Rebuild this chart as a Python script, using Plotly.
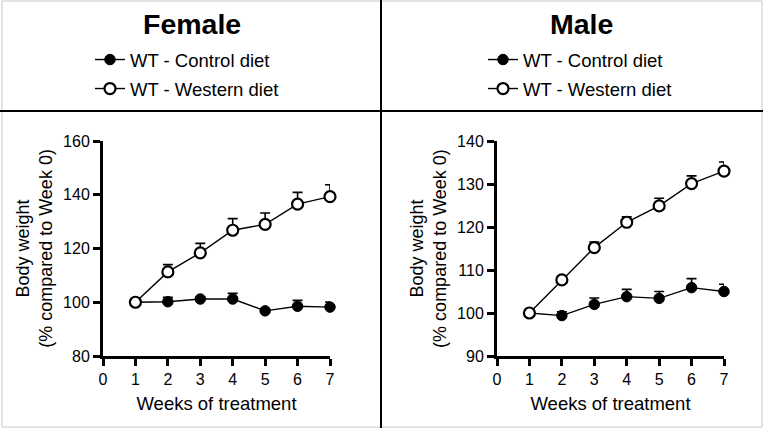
import plotly.graph_objects as go

weeks = [1, 2, 3, 4, 5, 6, 7]
x_ticks = [0, 1, 2, 3, 4, 5, 6, 7]

female_control = [100.0, 100.2, 101.2, 101.2, 96.8, 98.5, 98.2]
female_control_err = [0.0, 1.6, 0.8, 2.1, 0.5, 2.2, 1.9]
female_western = [100.0, 111.3, 118.4, 126.8, 129.0, 136.5, 139.3]
female_western_err = [0.0, 2.7, 3.5, 4.3, 4.2, 4.4, 4.4]

male_control = [100.0, 99.4, 102.0, 103.8, 103.4, 105.9, 105.0]
male_control_err = [0.0, 0.9, 1.5, 1.7, 1.6, 2.1, 1.7]
male_western = [100.0, 107.7, 115.2, 121.1, 124.9, 130.1, 133.0]
male_western_err = [0.0, 0.9, 1.3, 1.3, 1.8, 1.8, 2.1]

female_yticks = [80, 100, 120, 140, 160]
male_yticks = [90, 100, 110, 120, 130, 140]

series_names = ["WT - Control diet", "WT - Western diet"]
panel_titles = ["Female", "Male"]

FONT = "Liberation Sans, Arial, sans-serif"

fig = go.Figure()


def add_series(y, err, name, filled, xa, ya, legend):
    fig.add_trace(go.Scatter(
        x=weeks, y=y, name=name, mode="lines+markers",
        xaxis=xa, yaxis=ya, legend=legend, cliponaxis=False, showlegend=True,
        line=dict(color="black", width=1.4),
        marker=dict(size=10.5 if filled else 11, symbol="circle",
                    color="black" if filled else "white",
                    line=dict(color="black", width=2.2 if not filled else 1)),
        error_y=dict(type="data", symmetric=False, array=err,
                     arrayminus=[0] * len(err), width=5, thickness=1.6,
                     color="black"),
    ))


add_series(female_control, female_control_err, series_names[0], True, "x", "y", "legend")
add_series(female_western, female_western_err, series_names[1], False, "x", "y", "legend2")
add_series(male_control, male_control_err, series_names[0], True, "x2", "y2", "legend3")
add_series(male_western, male_western_err, series_names[1], False, "x2", "y2", "legend4")

W, H = 763, 428
ydom = [1 - 356 / H, 1 - 141 / H]

axis_common = dict(showline=True, linecolor="black", linewidth=3, ticks="outside",
                   ticklen=7, tickwidth=2.5, tickcolor="black", showgrid=False,
                   zeroline=False, automargin=False,
                   tickfont=dict(family=FONT, size=16, color="black"))

xtitle = dict(text="Weeks of treatment", font=dict(family=FONT, size=18.5, color="black"), standoff=10)
ytitle = dict(text="Body weight<br>(% compared to Week 0)", font=dict(family=FONT, size=18, color="black"), standoff=6)

fig.update_layout(
    width=W, height=H,
    showlegend=True,
    margin=dict(l=0, r=0, t=0, b=0, pad=0, autoexpand=False),
    paper_bgcolor="white", plot_bgcolor="white",
    font=dict(family=FONT, color="black"),
    xaxis=dict(domain=[103 / W, 330 / W], range=[0, 7], tickvals=x_ticks, anchor="y", title=xtitle, **axis_common),
    yaxis=dict(domain=ydom, range=[80, 160], tickvals=female_yticks, anchor="x", title=ytitle, **axis_common),
    xaxis2=dict(domain=[497 / W, 724 / W], range=[0, 7], tickvals=x_ticks, anchor="y2", title=xtitle, **axis_common),
    yaxis2=dict(domain=ydom, range=[90, 140], tickvals=male_yticks, anchor="x2", title=ytitle, **axis_common),
)

leg_font = dict(family=FONT, size=18.5, color="black")
legend_pos = {
    "legend": (90, 60), "legend2": (90, 89),
    "legend3": (483, 60), "legend4": (483, 89),
}
for key, (px, py) in legend_pos.items():
    fig.update_layout({key: dict(x=px / W, y=1 - py / H, xanchor="left", yanchor="middle",
                                 font=leg_font, bgcolor="rgba(0,0,0,0)", borderwidth=0,
                                 itemwidth=30, visible=True)})

# panel titles
for title, cx in zip(panel_titles, [192, 581]):
    fig.add_annotation(text="<b>%s</b>" % title, x=cx / W, y=1 - 24 / H, xref="paper", yref="paper",
                       showarrow=False, font=dict(family=FONT, size=28.5, color="black"),
                       xanchor="center", yanchor="middle")

# frame and dividers
fig.add_shape(type="rect", xref="paper", yref="paper", x0=2 / W, x1=762 / W, y0=1 - 427 / H, y1=1 - 1 / H,
              line=dict(color="#c8c8c8", width=1))
fig.add_shape(type="line", xref="paper", yref="paper", x0=381 / W, x1=381 / W, y0=0, y1=1,
              line=dict(color="black", width=2))
fig.add_shape(type="line", xref="paper", yref="paper", x0=0, x1=1, y0=1 - 111 / H, y1=1 - 111 / H,
              line=dict(color="black", width=2))

fig.write_html("out.html", config={"responsive": False, "displayModeBar": False},
               post_script="document.body.style.margin='0';document.body.style.overflow='hidden';")
